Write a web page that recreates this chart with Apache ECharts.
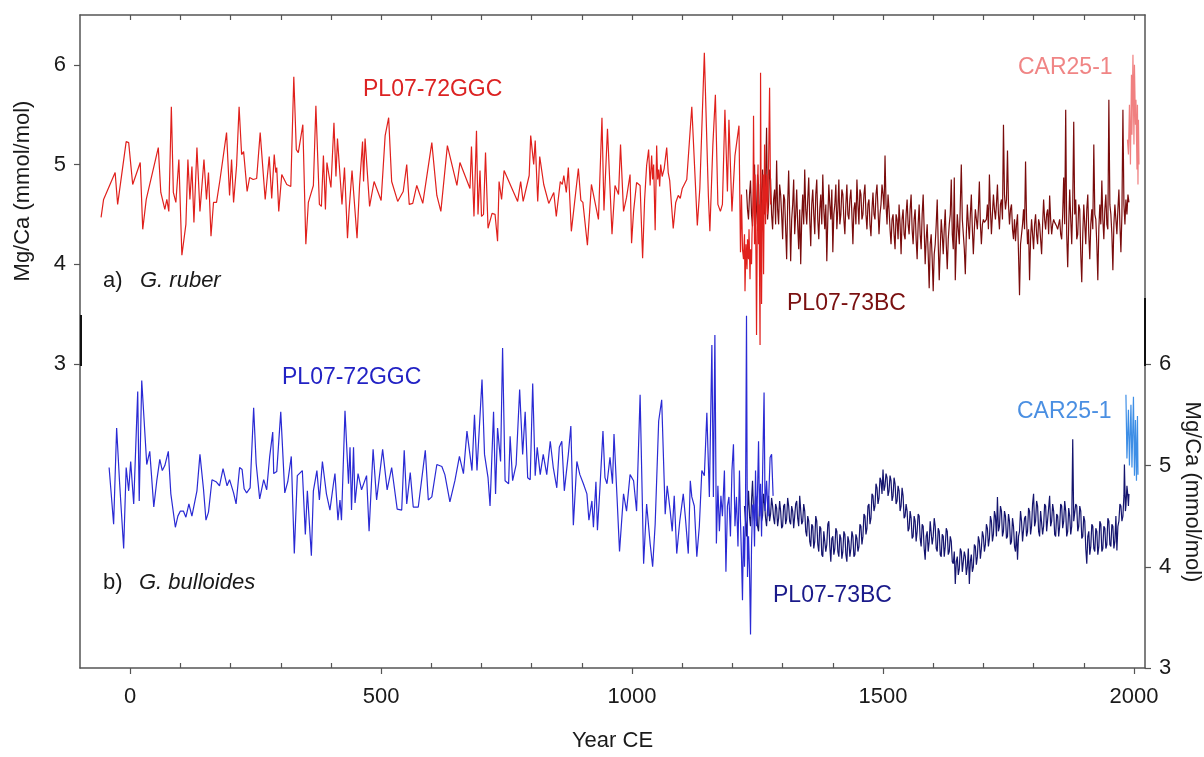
<!DOCTYPE html>
<html>
<head>
<meta charset="utf-8">
<script src="https://cdn.jsdelivr.net/npm/echarts@6/dist/echarts.min.js"></script>
<style>html,body{margin:0;padding:0;background:#fff}#c{width:1204px;height:757px}</style>
</head>
<body>
<div id="c"></div>
<script>
// ---- tick labels ----
const xTickValues = [0, 500, 1000, 1500, 2000];
const xMinorTicks = [100,200,300,400,600,700,800,900,1100,1200,1300,1400,1600,1700,1800,1900];
const xTopTicks = [0,100,200,300,400,500,600,700,800,900,1000,1100,1200,1300,1400,1500,1600,1700,1800,1900,2000];
const yTickValues = [3, 4, 5, 6];

// ---- a) G. ruber, PL07-72GGC ----
const ruber72 = [[-58,4.47],[-53,4.65],[-30,4.92],[-25,4.60],[-8,5.23],[-3,5.22],[5,4.80],[20,5.02],[25,4.35],[32,4.65],[56,5.17],[61,4.72],[69,4.55],[73,4.65],[77,4.53],[82,5.58],[86,4.72],[91,4.62],[97,5.05],[103,4.09],[111,4.40],[115,5.05],[119,4.65],[123,4.98],[127,4.42],[133,5.17],[139,4.53],[147,5.05],[152,4.65],[156,4.92],[161,4.28],[166,4.62],[172,4.62],[179,4.85],[192,5.32],[198,4.69],[202,5.05],[206,4.62],[212,4.99],[217,5.58],[222,5.10],[226,5.13],[233,4.73],[238,4.87],[245,4.85],[252,4.86],[259,5.32],[269,4.65],[277,5.08],[282,4.66],[287,5.10],[290,4.92],[292,4.97],[296,4.53],[302,4.90],[312,4.80],[320,4.78],[326,5.88],[331,5.15],[335,5.12],[344,5.40],[350,4.20],[355,4.62],[365,4.79],[370,5.59],[377,4.60],[381,4.58],[385,5.09],[389,4.55],[392,5.02],[400,4.77],[406,5.42],[410,4.88],[413,5.26],[422,4.60],[427,4.97],[433,4.26],[436,4.53],[442,4.94],[452,4.26],[457,4.79],[463,5.23],[465,4.83],[468,5.26],[477,4.58],[486,4.83],[500,4.64],[508,5.29],[515,5.47],[521,4.83],[533,4.63],[544,4.73],[551,5.00],[556,4.60],[563,4.61],[571,4.79],[583,4.61],[601,5.22],[611,4.69],[619,4.53],[632,5.19],[651,4.79],[657,5.02],[677,4.76],[680,5.18],[685,4.48],[690,5.34],[693,4.50],[697,4.94],[700,4.48],[704,4.50],[708,5.12],[713,4.36],[721,4.51],[727,4.50],[732,4.23],[735,4.83],[740,4.65],[745,4.94],[772,4.63],[778,4.83],[783,4.63],[795,4.89],[798,5.29],[804,5.00],[807,5.24],[812,4.63],[816,5.08],[824,4.80],[834,4.61],[844,4.72],[849,4.48],[857,4.83],[861,4.80],[864,4.89],[869,4.72],[873,4.97],[879,4.33],[893,4.96],[898,4.64],[902,4.62],[911,4.19],[919,4.80],[933,4.45],[940,5.47],[944,4.54],[951,5.36],[960,4.30],[966,4.79],[973,4.70],[977,5.20],[983,4.53],[989,4.67],[996,4.90],[999,4.21],[1003,4.53],[1009,4.82],[1016,4.79],[1021,4.06],[1025,4.65],[1029,4.99],[1033,5.15],[1036,4.79],[1039,5.09],[1041,4.85],[1043,5.00],[1046,4.34],[1049,5.19],[1051,4.85],[1053,4.95],[1055,4.78],[1057,5.00],[1060,4.88],[1064,4.96],[1069,5.17],[1072,4.92],[1075,4.84],[1082,4.36],[1087,4.62],[1092,4.69],[1096,4.66],[1100,4.76],[1109,4.85],[1119,5.58],[1130,4.39],[1135,4.76],[1144,6.12],[1152,4.69],[1155,4.33],[1161,5.20],[1166,5.70],[1171,4.60],[1176,4.53],[1180,4.60],[1185,5.55],[1190,4.73],[1193,5.45],[1199,4.53],[1205,5.09],[1213,5.39],[1216,4.12],[1218,4.70],[1220,4.15],[1222,4.05],[1224,4.30],[1225,3.73],[1227,4.20],[1229,3.95],[1230,4.25],[1232,4.05],[1233,4.35],[1235,3.85],[1236,4.15],[1238,4.00],[1239,4.30],[1241,4.60],[1242,5.49],[1244,4.20],[1245,4.90],[1247,4.00],[1248,3.29],[1250,4.80],[1251,5.00],[1252,4.20],[1253,4.60],[1255,3.19],[1256,5.92],[1258,3.60],[1259,4.30],[1261,4.90],[1262,3.90],[1264,5.20],[1266,4.40],[1268,4.90],[1270,4.50],[1272,5.00],[1274,5.77],[1276,4.60]];

// ---- a) G. ruber, PL07-73BC ----
const ruber73 = [[1228,4.75],[1230,4.55],[1232,4.45],[1234,4.70],[1236,4.84],[1238,4.50],[1240,4.38],[1242,4.75],[1244,5.00],[1246,4.40],[1248,4.55],[1250,4.90],[1252,4.80],[1254,4.45],[1256,4.30],[1258,4.70],[1260,4.95],[1262,4.60],[1264,4.50],[1266,4.85],[1268,5.37],[1270,4.45],[1272,4.60],[1274,4.95],[1276,4.85],[1278,4.50],[1280,4.35],[1282,4.65],[1284,4.75],[1286,4.40],[1288,5.04],[1290,4.55],[1292,4.40],[1294,4.80],[1296,4.70],[1298,4.50],[1300,4.25],[1302,4.70],[1304,4.65],[1306,4.35],[1308,4.05],[1310,4.60],[1312,4.94],[1314,4.50],[1316,4.03],[1318,4.45],[1320,4.60],[1322,4.85],[1324,4.30],[1326,4.50],[1328,4.75],[1330,4.40],[1332,4.15],[1334,4.55],[1336,4.00],[1338,4.45],[1340,4.70],[1342,4.40],[1344,4.95],[1346,4.55],[1348,4.40],[1350,4.65],[1352,4.87],[1354,4.45],[1356,4.18],[1358,4.60],[1360,4.75],[1362,4.50],[1364,4.30],[1366,4.70],[1368,4.85],[1370,4.45],[1372,4.25],[1374,4.55],[1376,4.70],[1378,4.40],[1380,4.90],[1382,4.55],[1384,4.35],[1386,4.60],[1388,4.03],[1390,4.45],[1392,4.80],[1394,4.60],[1396,4.45],[1398,4.75],[1400,4.12],[1402,4.50],[1404,4.60],[1406,4.80],[1408,4.35],[1410,4.55],[1412,4.85],[1414,4.40],[1416,4.50],[1418,4.75],[1420,4.70],[1422,4.45],[1424,4.30],[1426,4.60],[1428,4.80],[1430,4.50],[1432,4.45],[1434,4.65],[1436,4.75],[1438,4.50],[1440,4.20],[1442,4.55],[1444,4.62],[1446,4.40],[1448,4.85],[1450,4.60],[1452,4.40],[1454,4.75],[1456,4.70],[1458,4.45],[1460,4.50],[1462,4.70],[1464,4.80],[1466,4.50],[1468,4.35],[1470,4.60],[1472,4.65],[1474,4.40],[1476,4.28],[1478,4.55],[1480,4.72],[1482,4.50],[1484,4.45],[1486,4.70],[1488,4.80],[1490,4.55],[1492,4.30],[1494,4.50],[1496,4.60],[1498,4.80],[1500,4.70],[1502,4.55],[1504,5.09],[1506,4.60],[1508,4.40],[1510,4.70],[1512,4.55],[1514,4.35],[1516,4.20],[1518,4.45],[1520,4.50],[1522,4.30],[1524,4.15],[1526,4.50],[1528,4.45],[1530,4.25],[1532,4.60],[1534,4.40],[1536,4.10],[1538,4.45],[1540,4.55],[1542,4.30],[1544,4.25],[1546,4.50],[1548,4.65],[1550,4.40],[1552,4.30],[1554,4.55],[1556,4.70],[1558,4.35],[1560,4.20],[1562,4.45],[1564,4.55],[1566,4.25],[1568,4.05],[1570,4.40],[1572,4.60],[1574,4.30],[1576,4.15],[1578,4.50],[1580,4.70],[1582,4.35],[1584,4.00],[1586,4.25],[1588,4.40],[1590,4.10],[1592,3.76],[1594,4.20],[1596,4.30],[1598,4.05],[1600,3.73],[1602,4.10],[1604,4.20],[1606,4.40],[1608,4.65],[1610,4.20],[1612,3.84],[1614,4.15],[1616,4.45],[1618,4.30],[1620,4.10],[1622,4.35],[1624,4.55],[1626,4.20],[1628,3.95],[1630,4.25],[1632,4.40],[1634,4.50],[1636,4.85],[1638,4.30],[1640,4.15],[1642,4.87],[1644,3.84],[1646,4.20],[1648,4.50],[1650,4.35],[1652,4.20],[1654,4.60],[1656,5.00],[1658,4.45],[1660,4.30],[1662,4.15],[1664,3.90],[1666,4.30],[1668,4.60],[1670,4.40],[1672,4.25],[1674,4.50],[1676,4.70],[1678,4.35],[1680,4.10],[1682,4.35],[1684,4.55],[1686,4.45],[1688,4.35],[1690,4.55],[1692,4.83],[1694,4.40],[1696,4.20],[1698,4.40],[1700,4.45],[1702,4.42],[1704,4.40],[1706,4.45],[1708,4.60],[1710,4.35],[1712,4.90],[1714,4.55],[1716,4.30],[1718,4.50],[1720,4.70],[1722,4.55],[1724,4.45],[1726,4.60],[1728,4.80],[1730,4.50],[1732,4.35],[1734,4.60],[1736,4.65],[1738,4.45],[1740,5.40],[1742,4.70],[1744,4.55],[1746,4.65],[1748,5.14],[1750,4.60],[1752,4.40],[1754,4.55],[1756,4.60],[1758,4.35],[1760,4.25],[1762,4.45],[1764,4.23],[1766,4.40],[1768,4.50],[1770,4.10],[1772,3.69],[1774,4.20],[1776,4.30],[1778,4.40],[1780,4.55],[1782,4.35],[1784,5.03],[1786,4.45],[1788,4.20],[1790,4.35],[1792,3.84],[1794,4.25],[1796,4.45],[1798,4.30],[1800,4.15],[1802,4.40],[1804,4.50],[1806,4.30],[1808,4.20],[1810,4.45],[1812,4.40],[1814,4.25],[1816,4.10],[1818,4.40],[1820,4.65],[1822,4.45],[1824,4.35],[1826,4.50],[1828,4.55],[1830,4.30],[1832,4.69],[1834,4.45],[1836,4.30],[1838,4.40],[1840,4.45],[1842,4.42],[1844,4.40],[1846,4.38],[1848,4.35],[1850,4.40],[1852,4.45],[1854,4.30],[1856,4.25],[1858,4.50],[1860,4.87],[1862,4.40],[1864,5.55],[1866,4.30],[1868,3.97],[1870,4.40],[1872,4.75],[1874,4.45],[1876,4.20],[1878,4.60],[1880,5.43],[1882,4.50],[1884,4.65],[1886,4.25],[1888,4.30],[1890,4.60],[1892,4.55],[1894,4.10],[1896,3.82],[1898,4.30],[1900,4.60],[1902,4.40],[1904,4.20],[1906,4.55],[1908,4.70],[1910,4.30],[1912,4.05],[1914,4.40],[1916,4.55],[1918,4.35],[1920,5.20],[1922,4.50],[1924,4.45],[1926,4.20],[1928,3.84],[1930,4.35],[1932,4.60],[1934,4.40],[1936,4.84],[1938,4.45],[1940,4.25],[1942,4.55],[1944,4.70],[1946,4.40],[1948,4.35],[1950,5.65],[1952,4.60],[1954,4.50],[1956,4.30],[1958,3.94],[1960,4.40],[1962,4.60],[1964,4.45],[1966,4.30],[1968,4.55],[1970,4.75],[1972,4.40],[1974,4.12],[1976,4.50],[1978,5.55],[1980,4.60],[1982,4.40],[1984,4.65],[1986,4.50],[1988,4.70],[1990,4.62]];

// ---- a) G. ruber, CAR25-1 ----
const ruberCar = [[1987,5.25],[1989,5.10],[1991,5.60],[1993,5.00],[1995,5.90],[1996,5.30],[1998,6.10],[2000,5.20],[2001,6.00],[2003,5.40],[2004,5.65],[2006,4.95],[2007,5.60],[2008,4.80],[2009,5.45],[2010,5.00]];

// ---- b) G. bulloides, PL07-72GGC ----
const bull72 = [[-42,4.98],[-33,4.42],[-27,5.37],[-21,4.82],[-13,4.18],[-8,4.98],[-3,4.75],[1,5.04],[7,4.62],[15,5.73],[18,4.65],[23,5.84],[33,5.01],[39,5.14],[47,4.59],[53,4.85],[59,5.06],[64,4.95],[69,5.00],[76,5.14],[81,4.72],[90,4.39],[95,4.50],[100,4.55],[106,4.55],[111,4.49],[117,4.62],[123,4.50],[133,4.75],[139,5.11],[146,4.77],[151,4.46],[156,4.54],[163,4.86],[171,4.84],[178,4.80],[185,4.97],[193,4.80],[198,4.86],[206,4.73],[211,4.62],[218,4.98],[223,4.96],[227,4.77],[232,4.73],[239,4.78],[246,5.57],[251,5.02],[258,4.67],[266,4.86],[272,4.76],[278,5.09],[284,5.33],[286,4.92],[292,4.94],[300,5.53],[308,4.73],[314,4.84],[321,5.09],[327,4.13],[333,4.90],[343,4.95],[349,4.32],[353,4.75],[361,4.11],[365,4.75],[372,4.95],[377,4.66],[383,5.04],[391,4.72],[398,4.56],[405,4.82],[408,4.92],[414,4.46],[418,4.66],[421,4.46],[428,5.54],[435,4.82],[438,5.18],[441,4.56],[445,5.18],[448,4.63],[454,4.92],[461,4.76],[471,4.90],[476,4.35],[484,5.16],[491,4.66],[503,5.16],[512,4.76],[521,4.98],[532,4.57],[541,4.56],[546,5.15],[551,4.62],[558,4.93],[564,4.59],[574,4.59],[588,5.15],[594,4.66],[601,4.69],[611,5.01],[621,4.99],[627,4.91],[637,4.64],[647,4.85],[656,5.09],[664,4.92],[671,5.34],[681,4.95],[686,5.50],[691,4.95],[701,5.85],[706,5.11],[713,4.88],[717,4.60],[724,5.53],[728,4.72],[732,5.37],[738,5.04],[742,6.16],[747,4.85],[754,4.82],[757,5.29],[762,4.85],[769,5.01],[776,5.75],[782,5.11],[787,5.53],[792,4.88],[797,4.86],[802,5.81],[807,4.90],[811,5.18],[817,4.91],[823,5.11],[830,4.91],[837,5.24],[843,4.98],[850,4.78],[855,5.18],[860,5.24],[865,4.75],[873,5.11],[878,5.39],[883,4.41],[890,5.04],[896,4.91],[903,4.82],[910,4.72],[914,4.46],[920,4.65],[923,4.39],[928,4.84],[931,4.36],[936,4.78],[942,5.34],[946,4.88],[950,4.82],[956,5.08],[961,4.82],[964,5.31],[970,4.69],[975,4.15],[983,4.72],[989,4.55],[996,4.91],[1003,4.85],[1009,4.55],[1016,5.70],[1023,4.03],[1029,4.62],[1036,4.23],[1041,4.00],[1046,4.42],[1053,5.44],[1059,5.65],[1066,4.52],[1070,4.80],[1076,4.55],[1080,4.35],[1084,4.70],[1089,4.13],[1095,4.45],[1102,4.72],[1106,4.50],[1112,4.13],[1116,4.85],[1119,4.69],[1124,4.60],[1129,4.10],[1134,4.40],[1139,4.95],[1144,4.90],[1149,5.52],[1154,4.69],[1159,6.19],[1162,4.69],[1165,6.29],[1168,4.23],[1171,4.80],[1174,4.35],[1177,4.70],[1180,4.50],[1184,4.95],[1187,3.95],[1190,4.60],[1193,4.69],[1196,4.30],[1199,4.95],[1202,5.21],[1205,4.40],[1208,4.69],[1211,4.20],[1214,4.95],[1216,4.45],[1218,4.10],[1220,3.67],[1222,4.40],[1224,4.00],[1226,4.55],[1228,6.48],[1230,3.90],[1232,4.30],[1234,3.97],[1236,3.33],[1238,4.20],[1240,4.60],[1242,4.62],[1244,4.20],[1246,4.95],[1248,4.40],[1250,4.75],[1252,5.24],[1254,4.50],[1256,4.82],[1258,4.30],[1260,4.90],[1263,5.72],[1265,4.55],[1268,4.85],[1271,4.50],[1275,5.08],[1278,5.11],[1281,4.70]];

// ---- b) G. bulloides, PL07-73BC ----
const bull73 = [[1224,4.60],[1226,4.45],[1228,4.30],[1230,4.55],[1232,4.75],[1234,4.50],[1236,4.40],[1238,4.65],[1240,4.85],[1242,4.55],[1244,4.45],[1246,4.70],[1248,4.65],[1250,4.40],[1252,4.35],[1254,4.60],[1256,4.70],[1258,4.45],[1260,4.50],[1262,4.72],[1264,4.62],[1266,4.48],[1268,4.40],[1270,4.58],[1272,4.70],[1274,4.45],[1276,4.52],[1278,4.68],[1280,4.60],[1282,4.48],[1284,4.42],[1286,4.62],[1288,4.58],[1290,4.40],[1292,4.48],[1294,4.65],[1296,4.55],[1298,4.38],[1300,4.40],[1302,4.60],[1304,4.62],[1306,4.42],[1308,4.47],[1310,4.68],[1312,4.60],[1314,4.45],[1316,4.42],[1318,4.60],[1320,4.55],[1322,4.38],[1324,4.50],[1326,4.62],[1328,4.65],[1330,4.48],[1332,4.40],[1334,4.70],[1336,4.70],[1338,4.42],[1340,4.45],[1342,4.62],[1344,4.55],[1346,4.35],[1348,4.30],[1350,4.50],[1352,4.45],[1354,4.25],[1356,4.20],[1358,4.42],[1360,4.40],[1362,4.18],[1364,4.25],[1366,4.50],[1368,4.45],[1370,4.22],[1372,4.15],[1374,4.40],[1376,4.38],[1378,4.12],[1380,4.10],[1382,4.35],[1384,4.35],[1386,4.15],[1388,4.22],[1390,4.42],[1392,4.45],[1394,4.20],[1396,4.05],[1398,4.28],[1400,4.30],[1402,4.12],[1404,4.18],[1406,4.38],[1408,4.35],[1410,4.15],[1412,4.10],[1414,4.32],[1416,4.28],[1418,4.08],[1420,4.15],[1422,4.35],[1424,4.32],[1426,4.12],[1428,4.05],[1430,4.30],[1432,4.25],[1434,4.10],[1436,4.18],[1438,4.35],[1440,4.30],[1442,4.10],[1444,4.12],[1446,4.32],[1448,4.28],[1450,4.15],[1452,4.20],[1454,4.42],[1456,4.40],[1458,4.22],[1460,4.30],[1462,4.52],[1464,4.50],[1466,4.32],[1468,4.38],[1470,4.60],[1472,4.62],[1474,4.42],[1476,4.48],[1478,4.72],[1480,4.70],[1482,4.55],[1484,4.60],[1486,4.82],[1488,4.78],[1490,4.62],[1492,4.68],[1494,4.88],[1496,4.85],[1498,4.72],[1500,4.96],[1502,4.75],[1504,4.80],[1506,4.92],[1508,4.88],[1510,4.70],[1512,4.75],[1514,4.90],[1516,4.85],[1518,4.65],[1520,4.70],[1522,4.88],[1524,4.82],[1526,4.62],[1528,4.65],[1530,4.80],[1532,4.75],[1534,4.55],[1536,4.60],[1538,4.78],[1540,4.70],[1542,4.48],[1544,4.50],[1546,4.62],[1548,4.55],[1550,4.35],[1552,4.38],[1554,4.55],[1556,4.48],[1558,4.28],[1560,4.30],[1562,4.50],[1564,4.45],[1566,4.25],[1568,4.35],[1570,4.52],[1572,4.50],[1574,4.28],[1576,4.20],[1578,4.42],[1580,4.40],[1582,4.18],[1584,4.07],[1586,4.30],[1588,4.35],[1590,4.15],[1592,4.25],[1594,4.45],[1596,4.45],[1598,4.22],[1600,4.30],[1602,4.48],[1604,4.40],[1606,4.18],[1608,4.15],[1610,4.38],[1612,4.35],[1614,4.12],[1616,4.10],[1618,4.32],[1620,4.30],[1622,4.10],[1624,4.20],[1626,4.38],[1628,4.35],[1630,4.12],[1632,4.15],[1634,4.30],[1636,4.25],[1638,4.05],[1640,4.03],[1642,4.15],[1644,3.83],[1646,4.05],[1648,4.10],[1650,3.92],[1652,3.98],[1654,4.18],[1656,4.15],[1658,3.95],[1660,3.95],[1662,4.15],[1664,4.10],[1666,3.92],[1668,4.00],[1670,4.18],[1672,3.83],[1674,4.05],[1676,4.12],[1678,3.95],[1680,4.00],[1682,4.22],[1684,4.20],[1686,4.02],[1688,4.10],[1690,4.30],[1692,4.25],[1694,4.08],[1696,4.18],[1698,4.35],[1700,4.30],[1702,4.15],[1704,4.22],[1706,4.42],[1708,4.38],[1710,4.20],[1712,4.28],[1714,4.50],[1716,4.45],[1718,4.25],[1720,4.32],[1722,4.55],[1724,4.50],[1726,4.30],[1728,4.69],[1730,4.35],[1732,4.40],[1734,4.60],[1736,4.55],[1738,4.30],[1740,4.35],[1742,4.55],[1744,4.50],[1746,4.28],[1748,4.30],[1750,4.52],[1752,4.45],[1754,4.22],[1756,4.25],[1758,4.48],[1760,4.40],[1762,4.20],[1764,4.15],[1766,4.35],[1768,4.07],[1770,4.30],[1772,4.35],[1774,4.55],[1776,4.45],[1778,4.25],[1780,4.25],[1782,4.48],[1784,4.50],[1786,4.30],[1788,4.35],[1790,4.58],[1792,4.55],[1794,4.32],[1796,4.40],[1798,4.62],[1800,4.72],[1802,4.40],[1804,4.45],[1806,4.65],[1808,4.60],[1810,4.35],[1812,4.30],[1814,4.55],[1816,4.55],[1818,4.32],[1820,4.40],[1822,4.62],[1824,4.60],[1826,4.35],[1828,4.35],[1830,4.58],[1832,4.70],[1834,4.40],[1836,4.45],[1838,4.62],[1840,4.55],[1842,4.32],[1844,4.30],[1846,4.52],[1848,4.50],[1850,4.30],[1852,4.40],[1854,4.62],[1856,4.60],[1858,4.38],[1860,4.45],[1862,4.65],[1864,4.55],[1866,4.30],[1868,4.35],[1870,4.58],[1872,4.50],[1874,4.32],[1876,4.40],[1878,5.26],[1880,4.45],[1882,4.45],[1884,4.62],[1886,4.60],[1888,4.35],[1890,4.40],[1892,4.60],[1894,4.55],[1896,4.28],[1898,4.30],[1900,4.50],[1902,4.45],[1904,4.18],[1906,4.03],[1908,4.30],[1910,4.35],[1912,4.12],[1914,4.20],[1916,4.42],[1918,4.40],[1920,4.18],[1922,4.15],[1924,4.38],[1926,4.35],[1928,4.12],[1930,4.20],[1932,4.45],[1934,4.42],[1936,4.15],[1938,4.18],[1940,4.40],[1942,4.38],[1944,4.18],[1946,4.22],[1948,4.48],[1950,4.45],[1952,4.22],[1954,4.20],[1956,4.42],[1958,4.40],[1960,4.18],[1962,4.25],[1964,4.50],[1966,4.16],[1968,4.40],[1970,4.45],[1972,4.62],[1974,4.60],[1976,4.45],[1978,4.50],[1980,4.70],[1981,5.01],[1983,4.55],[1984,4.60],[1986,4.80],[1987,4.75],[1989,4.60],[1990,4.72]];

// ---- b) G. bulloides, CAR25-1 ----
const bullCar = [[1984,5.70],[1986,5.07],[1989,5.55],[1991,5.00],[1994,5.60],[1996,4.98],[1999,5.68],[2001,4.90],[2003,5.45],[2005,4.85],[2007,5.49],[2008,4.91]];

const FONT = '"Liberation Sans", Arial, sans-serif';
const AX = '#555555';
const TXT = '#1a1a1a';

function line(name, data, color, yIdx, z) {
  return { name, type: 'line', data, xAxisIndex: 0, yAxisIndex: yIdx, showSymbol: false, symbol: 'none',
    lineStyle: { color, width: 1.2 }, itemStyle: { color }, z, silent: true };
}

const chart = echarts.init(document.getElementById('c'), null, { renderer: 'canvas' });
const fmt = v => String(v);
chart.setOption({
  animation: false,
  backgroundColor: '#ffffff',
  grid: { left: 80, right: 59, top: 15, bottom: 85, containLabel: false },
  xAxis: [
    { type: 'value', position: 'bottom', min: -100, max: 2022,
      axisLine: { show: true, onZero: false, lineStyle: { color: AX, width: 1.5 } },
      axisTick: { show: true, customValues: xTickValues, inside: false, length: 6, lineStyle: { color: AX, width: 1.2 } },
      axisLabel: { show: true, customValues: xTickValues, formatter: fmt, margin: 18, fontSize: 22, color: TXT, fontFamily: FONT },
      splitLine: { show: false },
      name: 'Year CE', nameLocation: 'middle', nameGap: 62,
      nameTextStyle: { fontSize: 22, color: TXT, fontFamily: FONT } },
    { type: 'value', position: 'bottom', min: -100, max: 2022,
      axisLine: { show: false, onZero: false },
      axisTick: { show: true, customValues: xMinorTicks, inside: true, length: 5, lineStyle: { color: AX, width: 1.2 } },
      axisLabel: { show: false }, splitLine: { show: false } },
    { type: 'value', position: 'top', min: -100, max: 2022,
      axisLine: { show: true, onZero: false, lineStyle: { color: AX, width: 1.5 } },
      axisTick: { show: true, customValues: xTopTicks, inside: true, length: 5, lineStyle: { color: AX, width: 1.2 } },
      axisLabel: { show: false }, splitLine: { show: false } }
  ],
  yAxis: [
    { type: 'value', position: 'left', min: -0.05, max: 6.5,
      axisLine: { show: true, onZero: false, lineStyle: { color: AX, width: 1.5 } },
      axisTick: { show: true, customValues: yTickValues, inside: false, length: 6, lineStyle: { color: AX, width: 1.2 } },
      axisLabel: { show: true, customValues: yTickValues, formatter: fmt, margin: 14, fontSize: 22, color: TXT, fontFamily: FONT },
      splitLine: { show: false } },
    { type: 'value', position: 'right', min: 3, max: 9.45,
      axisLine: { show: true, onZero: false, lineStyle: { color: AX, width: 1.5 } },
      axisTick: { show: true, customValues: yTickValues, inside: false, length: 6, lineStyle: { color: AX, width: 1.2 } },
      axisLabel: { show: true, customValues: yTickValues, formatter: fmt, margin: 14, fontSize: 22, color: TXT, fontFamily: FONT },
      splitLine: { show: false } }
  ],
  series: [
    line('PL07-73BC G. bulloides', bull73, '#14146e', 1, 2),
    line('PL07-72GGC G. bulloides', bull72, '#2a2ad4', 1, 3),
    line('CAR25-1 G. bulloides', bullCar, '#3d8ee6', 1, 4),
    line('PL07-73BC G. ruber', ruber73, '#7a0c0c', 0, 2),
    line('PL07-72GGC G. ruber', ruber72, '#e0201c', 0, 3),
    line('CAR25-1 G. ruber', ruberCar, '#f08080', 0, 4)
  ],
  graphic: { elements: [
    { type: 'line', shape: { x1: 81, y1: 315, x2: 81, y2: 366 }, style: { stroke: '#111', lineWidth: 2 }, z: 10 },
    { type: 'line', shape: { x1: 1145, y1: 298, x2: 1145, y2: 366 }, style: { stroke: '#111', lineWidth: 2 }, z: 10 },
    { type: 'text', x: 23, y: 191, rotation: Math.PI / 2,
      style: { text: 'Mg/Ca (mmol/mol)', fill: TXT, font: '22px ' + FONT, align: 'center', verticalAlign: 'middle' } },
    { type: 'text', x: 1192, y: 492, rotation: -Math.PI / 2,
      style: { text: 'Mg/Ca (mmol/mol)', fill: TXT, font: '22px ' + FONT, align: 'center', verticalAlign: 'middle' } },
    { type: 'text', x: 363, y: 90, style: { text: 'PL07-72GGC', fill: '#dc2222', font: '23px ' + FONT, verticalAlign: 'middle' } },
    { type: 'text', x: 1018, y: 68, style: { text: 'CAR25-1', fill: '#f08585', font: '23px ' + FONT, verticalAlign: 'middle' } },
    { type: 'text', x: 787, y: 304, style: { text: 'PL07-73BC', fill: '#7a1010', font: '23px ' + FONT, verticalAlign: 'middle' } },
    { type: 'text', x: 103, y: 281, style: { text: 'a)', fill: TXT, font: '22px ' + FONT, verticalAlign: 'middle' } },
    { type: 'text', x: 140, y: 281, style: { text: 'G. ruber', fill: TXT, font: 'italic 22px ' + FONT, verticalAlign: 'middle' } },
    { type: 'text', x: 282, y: 378, style: { text: 'PL07-72GGC', fill: '#2222c4', font: '23px ' + FONT, verticalAlign: 'middle' } },
    { type: 'text', x: 1017, y: 412, style: { text: 'CAR25-1', fill: '#4a8fe2', font: '23px ' + FONT, verticalAlign: 'middle' } },
    { type: 'text', x: 103, y: 583, style: { text: 'b)', fill: TXT, font: '22px ' + FONT, verticalAlign: 'middle' } },
    { type: 'text', x: 139, y: 583, style: { text: 'G. bulloides', fill: TXT, font: 'italic 22px ' + FONT, verticalAlign: 'middle' } },
    { type: 'text', x: 773, y: 596, style: { text: 'PL07-73BC', fill: '#1a1a8a', font: '23px ' + FONT, verticalAlign: 'middle' } }
  ] }
});
</script>
</body>
</html>
